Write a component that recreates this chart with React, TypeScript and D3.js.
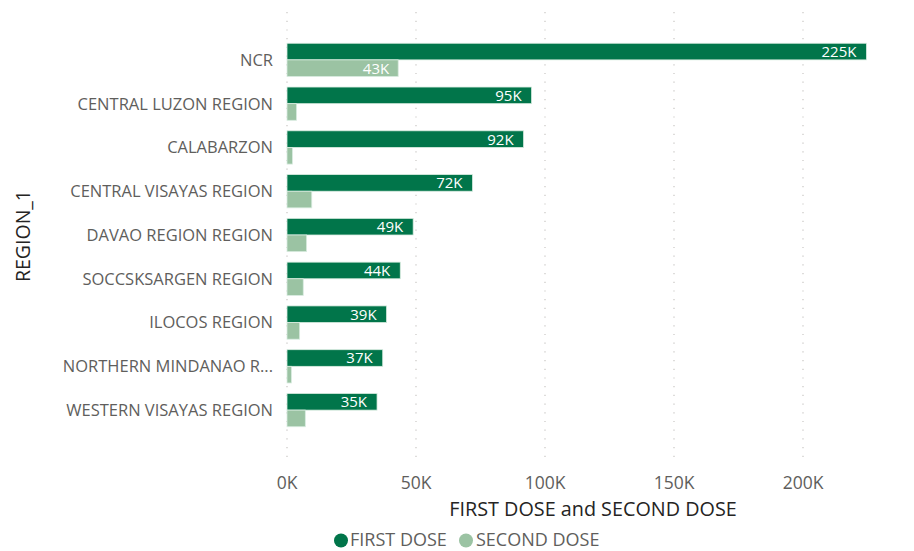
import React from "react";
import * as d3 from "d3";

const categories = [
  "NCR",
  "CENTRAL LUZON REGION",
  "CALABARZON",
  "CENTRAL VISAYAS REGION",
  "DAVAO REGION REGION",
  "SOCCSKSARGEN REGION",
  "ILOCOS REGION",
  "NORTHERN MINDANAO R...",
  "WESTERN VISAYAS REGION",
];
const firstDose = [224.6, 94.8, 91.7, 71.9, 48.9, 43.9, 38.6, 37.1, 34.9];
const secondDose = [43.1, 3.7, 2.1, 9.6, 7.6, 6.3, 4.9, 1.7, 7.1];
const xTicks = [0, 50, 100, 150, 200];
const seriesNames = ["FIRST DOSE", "SECOND DOSE"];
const colors = ["#01754A", "#9BC3A3"];

const W = 914;
const H = 551;
const FONT = "'Open Sans', 'Noto Sans', sans-serif";

export default function App() {
  const x = d3.scaleLinear().domain([0, 200]).range([287, 803]);
  const y = d3.scaleBand().domain(categories).range([38, 432]).paddingInner(0.24).paddingOuter(0.12);
  const bw = y.bandwidth() / 2;
  const fmt = (v: number) => `${Math.round(v)}K`;

  return (
    <svg width={W} height={H} style={{ position: "absolute", left: 0, top: 0, background: "#fff" }} fontFamily={FONT}>
      {xTicks.map((t) => (
        <line key={"g" + t} x1={x(t)} x2={x(t)} y1={12} y2={462} stroke="#C8C6C4" strokeWidth={1.2} strokeDasharray="1.2,7.5" />
      ))}
      {categories.map((c, i) => {
        const y0 = y(c)!;
        return (
          <g key={c}>
            <rect x={x(0)} y={y0} width={x(firstDose[i]) - x(0)} height={bw} fill={colors[0]} stroke="#d9ece0" strokeWidth={0.8} />
            <rect x={x(0)} y={y0 + bw} width={x(secondDose[i]) - x(0)} height={bw} fill={colors[1]} stroke="#d9ece0" strokeWidth={0.8} />
            <text x={x(firstDose[i]) - 10} y={y0 + bw / 2} dy="0.36em" textAnchor="end" fill="#fff" fontSize={15}>
              {fmt(firstDose[i])}
            </text>
            {x(secondDose[i]) - x(0) > 40 && (
              <text x={x(secondDose[i]) - 9} y={y0 + bw * 1.5} dy="0.36em" textAnchor="end" fill="#fff" fontSize={15}>
                {fmt(secondDose[i])}
              </text>
            )}
            <text x={273} y={y0 + bw} dy="0.36em" textAnchor="end" fill="#605E5C" fontSize={16.5}>
              {c}
            </text>
          </g>
        );
      })}
      {xTicks.map((t) => (
        <text key={"t" + t} x={x(t)} y={483} dy="0.36em" textAnchor="middle" fill="#605E5C" fontSize={17.5}>
          {t + "K"}
        </text>
      ))}
      <text x={593} y={509} dy="0.36em" textAnchor="middle" fill="#252423" fontSize={19.8}>
        FIRST DOSE and SECOND DOSE
      </text>
      <text transform={`translate(23,236) rotate(-90)`} dy="0.36em" textAnchor="middle" fill="#252423" fontSize={19.5}>
        REGION_1
      </text>
      <circle cx={341} cy={540.5} r={7} fill={colors[0]} />
      <text x={350} y={539.5} dy="0.36em" fill="#605E5C" fontSize={18}>{seriesNames[0]}</text>
      <circle cx={466} cy={540.5} r={7} fill={colors[1]} />
      <text x={476} y={539.5} dy="0.36em" fill="#605E5C" fontSize={18}>{seriesNames[1]}</text>
    </svg>
  );
}
